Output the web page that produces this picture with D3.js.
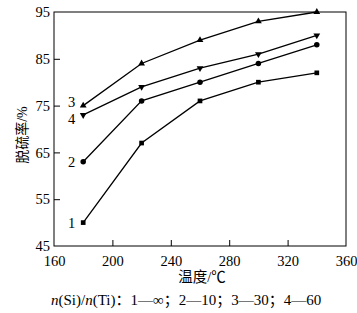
<!DOCTYPE html>
<html>
<head>
<meta charset="utf-8">
<script src="https://cdn.jsdelivr.net/npm/d3@7"></script>
<style>
  body { margin: 0; background: #fff; }
  text { font-family: "Liberation Serif", "Noto Sans CJK SC", serif; fill: #000; }
</style>
</head>
<body>
<div id="graph"></div>
<script>
(function(){
	"use strict";

	// temperatures (°C) and desulfurization rate (%) per n(Si)/n(Ti) ratio
	var temps = [180, 220, 260, 300, 340];
	var s1 = [50, 67, 76, 80, 82];   // 1 — ∞
	var s2 = [63, 76, 80, 84, 88];   // 2 — 10
	var s3 = [75, 84, 89, 93, 95];   // 3 — 30
	var s4 = [73, 79, 83, 86, 90];   // 4 — 60
	var xTicks = [160, 200, 240, 280, 320, 360];
	var yTicks = [45, 55, 65, 75, 85, 95];

	var margin = {top: 12, right: 11, bottom: 67, left: 54};
	var width = 357 - margin.left - margin.right;
	var height = 313 - margin.top - margin.bottom;

	var svg = d3.select("#graph").append("svg")
		.attr("width", 357)
		.attr("height", 313);
	var g = svg.append("g").attr("transform", "translate(" + margin.left + "," + margin.top + ")");

	var x = d3.scaleLinear().domain([160, 360]).range([0, width]);
	var y = d3.scaleLinear().domain([45, 95]).range([height, 0]);

	// frame
	g.append("rect")
		.attr("width", width)
		.attr("height", height)
		.attr("fill", "none")
		.attr("stroke", "#000")
		.attr("stroke-width", 1);

	// axes with inward ticks
	var xAxis = g.append("g")
		.attr("transform", "translate(0," + height + ")")
		.call(d3.axisBottom(x).tickValues(xTicks).tickSizeInner(-6).tickSizeOuter(0).tickPadding(10));
	xAxis.select(".domain").remove();
	xAxis.selectAll("text").style("font-size", "14.5px");
	xAxis.selectAll("line").filter(function(d) { return d === 160 || d === 360; }).remove();

	var yAxis = g.append("g")
		.call(d3.axisLeft(y).tickValues(yTicks).tickSizeInner(-6).tickSizeOuter(0).tickPadding(4));
	yAxis.select(".domain").remove();
	yAxis.selectAll("text").style("font-size", "14.5px");
	yAxis.selectAll("line").filter(function(d) { return d === 45 || d === 95; }).remove();

	var series = [
		{name: "1", values: s1, shape: d3.symbolSquare, size: 22, dx: -8, dy: 5},
		{name: "2", values: s2, shape: d3.symbolCircle, size: 24, dx: -8, dy: 5},
		{name: "3", values: s3, shape: d3.symbolTriangle, size: 20, dx: -8, dy: 1},
		{name: "4", values: s4, shape: d3.symbolTriangle, size: 20, dx: -8, dy: 9, flip: true}
	];

	var line = d3.line()
		.x(function(d, i) { return x(temps[i]); })
		.y(function(d) { return y(d); });

	series.forEach(function(s) {
		g.append("path")
			.datum(s.values)
			.attr("fill", "none")
			.attr("stroke", "#000")
			.attr("stroke-width", 1.3)
			.attr("d", line);

		g.selectAll(null)
			.data(s.values)
			.enter().append("path")
			.attr("d", d3.symbol().type(s.shape).size(s.size))
			.attr("transform", function(d, i) {
				return "translate(" + x(temps[i]) + "," + y(d) + ")" + (s.flip ? " rotate(180)" : "");
			})
			.attr("fill", "#000");

		g.append("text")
			.attr("x", x(temps[0]) + s.dx)
			.attr("y", y(s.values[0]) + s.dy)
			.attr("text-anchor", "end")
			.style("font-size", "14.5px")
			.text(s.name);
	});

	// axis titles
	svg.append("text")
		.attr("transform", "translate(27," + (margin.top + height / 2 + 6) + ") rotate(-90)")
		.attr("text-anchor", "middle")
		.style("font-size", "14px")
		.text("脱硫率/%");

	svg.append("text")
		.attr("x", margin.left + width / 2 + 2)
		.attr("y", 282)
		.attr("text-anchor", "middle")
		.style("font-size", "14.5px")
		.text("温度/℃");

	// caption
	var cap = svg.append("text")
		.attr("x", 51)
		.attr("y", 305)
		.style("font-size", "15px");
	cap.append("tspan").style("font-style", "italic").text("n");
	cap.append("tspan").text("(Si)/");
	cap.append("tspan").style("font-style", "italic").text("n");
	cap.append("tspan").text("(Ti)：1—∞；2—10；3—30；4—60");
})();
</script>
</body>
</html>
